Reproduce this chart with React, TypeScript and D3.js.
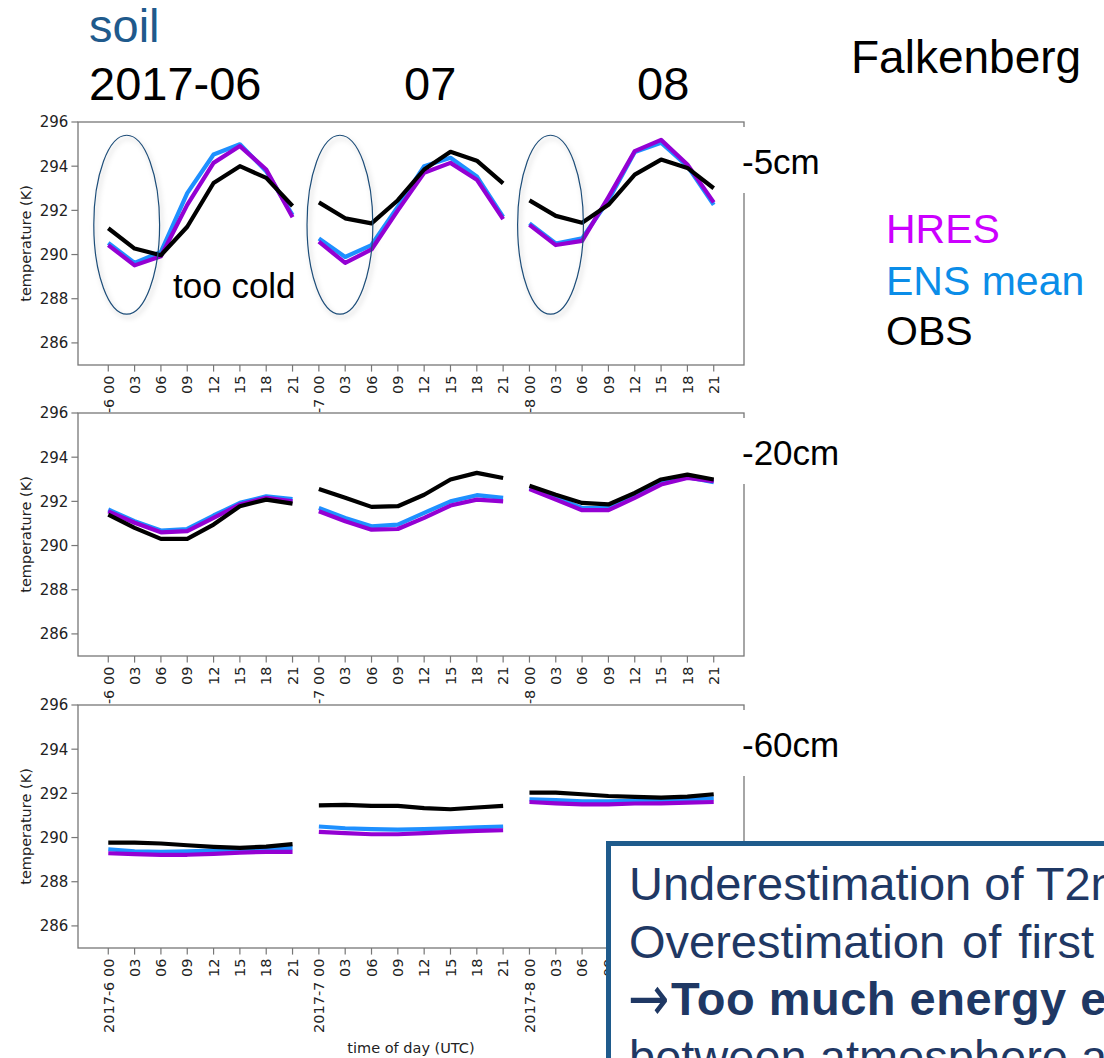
import React from 'react'
import * as d3 from 'd3'

// x axis: 3 months x 8 synoptic hours (one mean day per month)
const months = ['2017-6', '2017-7', '2017-8']
const hours = ['00', '03', '06', '09', '12', '15', '18', '21']
const headerMonths = ['2017-06', '07', '08']
const depths = ['-5cm', '-20cm', '-60cm']
const yTicks = [286, 288, 290, 292, 294, 296]

// -5cm
const hres5 = [290.43, 289.51, 289.92, 292.25, 294.15, 294.91, 293.85, 291.69,
  290.58, 289.62, 290.23, 292.0, 293.7, 294.15, 293.39, 291.6,
  291.34, 290.43, 290.62, 292.6, 294.68, 295.19, 294.08, 292.36]
const ens5 = [290.53, 289.62, 290.12, 292.78, 294.53, 294.99, 293.77, 291.79,
  290.73, 289.89, 290.43, 292.17, 294.0, 294.38, 293.54, 291.7,
  291.41, 290.5, 290.73, 292.46, 294.64, 295.06, 294.0, 292.25]
const obs5 = [291.19, 290.27, 289.97, 291.26, 293.24, 294.0, 293.47, 292.2,
  292.36, 291.64, 291.41, 292.46, 293.85, 294.65, 294.25, 293.22,
  292.45, 291.75, 291.44, 292.25, 293.62, 294.3, 293.92, 293.0]

// -20cm
const hres20 = [291.55, 291.03, 290.6, 290.65, 291.25, 291.86, 292.16, 292.0,
  291.55, 291.1, 290.72, 290.75, 291.25, 291.81, 292.08, 292.0,
  292.56, 292.08, 291.6, 291.6, 292.16, 292.76, 293.06, 292.91]
const ens20 = [291.63, 291.1, 290.68, 290.75, 291.36, 291.93, 292.23, 292.1,
  291.7, 291.25, 290.87, 290.95, 291.48, 292.0, 292.28, 292.16,
  292.6, 292.16, 291.7, 291.7, 292.23, 292.84, 293.1, 292.87]
const obs20 = [291.4, 290.8, 290.3, 290.3, 290.95, 291.78, 292.08, 291.9,
  292.56, 292.16, 291.75, 291.78, 292.3, 292.99, 293.29, 293.06,
  292.71, 292.3, 291.93, 291.86, 292.38, 292.99, 293.21, 292.99]

// -60cm
const hres60 = [289.29, 289.25, 289.22, 289.22, 289.26, 289.32, 289.35, 289.35,
  290.26, 290.2, 290.15, 290.15, 290.2, 290.26, 290.3, 290.33,
  291.61, 291.55, 291.5, 291.5, 291.54, 291.55, 291.58, 291.61]
const ens60 = [289.47, 289.37, 289.35, 289.37, 289.41, 289.47, 289.5, 289.53,
  290.5, 290.42, 290.38, 290.36, 290.38, 290.42, 290.46, 290.5,
  291.73, 291.69, 291.64, 291.64, 291.66, 291.69, 291.73, 291.78]
const obs60 = [289.77, 289.77, 289.73, 289.65, 289.58, 289.53, 289.59, 289.7,
  291.46, 291.48, 291.43, 291.43, 291.33, 291.28, 291.36, 291.43,
  292.03, 292.03, 291.96, 291.88, 291.84, 291.81, 291.85, 291.96]

// night-time circles on the -5cm panel (index, K)
const ellipseIdx = [0.7, 8.8, 16.8]
const ellipseT = 291.35

const panels = [
  { depth: depths[0], hres: hres5, ens: ens5, obs: obs5 },
  { depth: depths[1], hres: hres20, ens: ens20, obs: obs20 },
  { depth: depths[2], hres: hres60, ens: ens60, obs: obs60 }
]

const colHres = '#9400d3'
const colEns = '#1e90ff'
const colObs = '#000000'
const navy = '#1f3864'
const slideFont = '"Liberation Sans", Arial, sans-serif'
const plotFont = '"DejaVu Sans", sans-serif'

const width = 1104
const height = 1058
const margin = { left: 78, right: 744 }
const panelTops = [122, 413, 705]
const panelH = 243
const tickLen = 6.6
const spine = '#777'
const tickCol = '#222'

export default function App() {
  const labels = months.flatMap((m) => hours.map((h, i) => (i === 0 ? `${m} ${h}` : h)))
  const idx = d3.range(labels.length)

  const x = d3.scaleLinear()
    .domain([-1.15, idx.length - 1 + 1.15])
    .range([margin.left, margin.right])

  const renderPanel = (p: any, k: number) => {
    const top = panelTops[k]
    const bottom = top + panelH
    const y = d3.scaleLinear().domain([285, 296]).range([bottom, top])

    // one line piece per month
    const segments = (vals: number[]) =>
      months.map((_, mi) => {
        const seg = vals.slice(mi * hours.length, (mi + 1) * hours.length)
        const l = d3.line<number>()
          .x((_, i) => x(mi * hours.length + i))
          .y((d) => y(d))
        return l(seg)
      })

    return (
      <g key={p.depth}>
        {/* axes background covers tick labels of the panel above */}
        <rect x={margin.left} y={top} width={margin.right - margin.left} height={panelH} fill='white' />

        {[['ens', colEns], ['hres', colHres], ['obs', colObs]].map(([key, col]) =>
          segments(p[key]).map((d, i) => (
            <path key={key + i} d={d || ''} fill='none' stroke={col} strokeWidth={4.2}
              strokeLinejoin='round' strokeLinecap='butt' />
          ))
        )}

        {/* spines */}
        <rect x={margin.left} y={top} width={margin.right - margin.left} height={panelH}
          fill='none' stroke={spine} strokeWidth={1.3} />

        {/* y axis */}
        {yTicks.map((t) => (
          <g key={t}>
            <line x1={margin.left - tickLen} x2={margin.left} y1={y(t)} y2={y(t)} stroke={spine} strokeWidth={1.2} />
            <text x={margin.left - tickLen - 3} y={y(t)} dy='0.36em' textAnchor='end'
              fontFamily={plotFont} fontSize={15} fill={tickCol}>{t}</text>
          </g>
        ))}
        <text transform={`translate(31, ${(top + bottom) / 2}) rotate(-90)`} textAnchor='middle'
          fontFamily={plotFont} fontSize={14.5} fill={tickCol}>temperature (K)</text>

        {/* x axis */}
        {labels.map((lab, i) => (
          <g key={i}>
            <line x1={x(i)} x2={x(i)} y1={bottom} y2={bottom + tickLen} stroke={spine} strokeWidth={1.2} />
            <text transform={`translate(${x(i)}, ${bottom + tickLen + 4}) rotate(-90)`} dy='0.36em'
              textAnchor='end' fontFamily={plotFont} fontSize={14.5} fill={tickCol}>{lab}</text>
          </g>
        ))}

        {/* depth label with white box over the right spine */}
        <rect x={741} y={top + 5} width={112} height={66} fill='white' />
        <text x={742} y={top + 52} fontFamily={slideFont} fontSize={35} fill='#000'>{p.depth}</text>
      </g>
    )
  }

  const y5 = d3.scaleLinear().domain([285, 296]).range([panelTops[0] + panelH, panelTops[0]])
  const rx = x(1.25) - x(0)
  const ry = y5(ellipseT - 4.05) - y5(ellipseT)

  return (
    <svg width={width} height={height} style={{ position: 'absolute', left: 0, top: 0, background: 'white' }}>
      <defs>
        <filter id='shadow' x='-30%' y='-30%' width='160%' height='160%'>
          <feDropShadow dx='2' dy='3' stdDeviation='2.5' floodColor='#000' floodOpacity='0.25' />
        </filter>
      </defs>
      <rect width={width} height={height} fill='white' />

      {panels.map((p, k) => (
        <React.Fragment key={k}>
          {renderPanel(p, k)}
          {k === 0 && (
            <g>
              {ellipseIdx.map((c) => (
                <ellipse key={c} cx={x(c)} cy={y5(ellipseT)} rx={rx} ry={ry} fill='none'
                  stroke='#1f4e79' strokeWidth={1.2} filter='url(#shadow)' />
              ))}
              <text x={173} y={298} fontFamily={slideFont} fontSize={35} fill='#000'>too cold</text>
            </g>
          )}
        </React.Fragment>
      ))}

      <text x={x(11.5)} y={1053} textAnchor='middle' fontFamily={plotFont} fontSize={14.5} fill={tickCol}>
        time of day (UTC)
      </text>

      {/* header */}
      <text x={89} y={42} fontFamily={slideFont} fontSize={47} fill='#1f5a8c'>soil</text>
      <text x={89} y={100} fontFamily={slideFont} fontSize={47} fill='#000'>{headerMonths[0]}</text>
      <text x={404} y={100} fontFamily={slideFont} fontSize={47} fill='#000'>{headerMonths[1]}</text>
      <text x={637} y={100} fontFamily={slideFont} fontSize={47} fill='#000'>{headerMonths[2]}</text>
      <text x={851} y={73} fontFamily={slideFont} fontSize={46} fill='#000'>Falkenberg</text>

      {/* legend */}
      <text x={886} y={243} fontFamily={slideFont} fontSize={41} fill='#cc00ff'>HRES</text>
      <text x={886} y={295} fontFamily={slideFont} fontSize={41} fill='#0b8de8'>ENS mean</text>
      <text x={886} y={345} fontFamily={slideFont} fontSize={41} fill='#000'>OBS</text>

      {/* conclusion box, running off the page edge as in the slide */}
      <rect x={608.5} y={843.5} width={600} height={300} fill='white' stroke='#1f5b8c' strokeWidth={5} />
      <g fontFamily={slideFont} fontSize={47} fill={navy}>
        <text x={629} y={900}>Underestimation of T2m at night</text>
        <text x={629} y={958} wordSpacing={4}>Overestimation of first soil layer</text>
        <text transform='translate(628, 1000) scale(1.05, 1.35)' y={15}
          fontFamily={plotFont}>→</text>
        <text x={671} y={1015} fontWeight='bold' letterSpacing={0.5}>Too much energy exchange</text>
        <text x={629} y={1073}>between atmosphere and soil</text>
      </g>
    </svg>
  )
}
